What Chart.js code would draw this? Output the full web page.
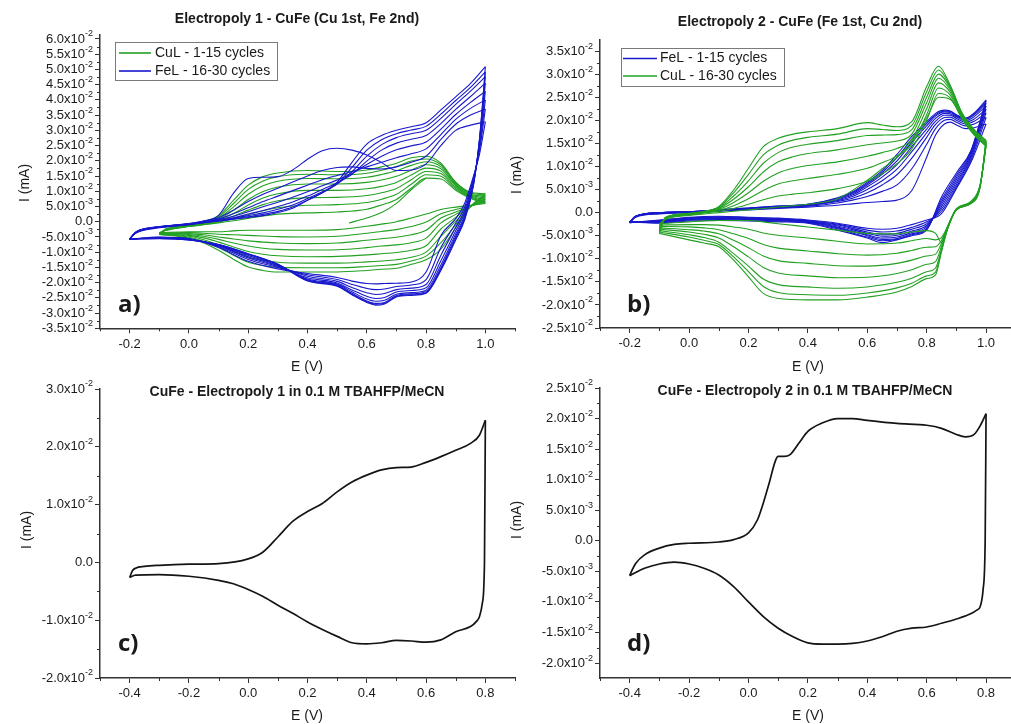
<!DOCTYPE html>
<html><head><meta charset="utf-8">
<script src="https://cdn.jsdelivr.net/npm/chart.js@4.4.1/dist/chart.umd.min.js"></script>
<style>
html,body{margin:0;padding:0;background:#ffffff;}
body{width:1011px;height:724px;overflow:hidden;position:relative;}
canvas{position:absolute;left:0;top:0;}
</style></head><body>
<canvas id="ca" width="1011" height="724"></canvas>
<canvas id="cb" width="1011" height="724"></canvas>
<canvas id="cc" width="1011" height="724"></canvas>
<canvas id="cd" width="1011" height="724"></canvas>
<script>
// ===== DATA (current in units of 1e-3 mA, potential in V) =====
// Panel a — CuL cycles (green), forward and reverse scans
const aCuE_F = [-0.1,-0.08,0,0.05,0.1,0.15,0.2,0.25,0.3,0.4,0.5,0.6,0.65,0.7,0.75,0.8,0.85,0.9,0.95,1.0];
const aCuFwd = [
  [-3.6,-2.9,-1.6,-1.0,-0.4,0.3,1.1,1.9,2.5,2.9,3.2,4.1,5.5,7.3,11.0,14.3,14.0,10.3,7.6,6.0],
  [-3.7,-2.9,-1.5,-0.9,-0.1,1.0,2.3,3.6,4.6,5.4,5.6,6.3,7.4,9.0,12.3,15.4,14.9,10.8,7.9,6.4],
  [-3.8,-2.8,-1.5,-0.8,0.2,1.8,3.8,5.6,6.9,7.9,8.0,8.6,9.5,10.9,13.8,16.5,15.8,11.3,8.2,6.8],
  [-3.9,-2.8,-1.4,-0.7,0.5,2.7,5.5,7.8,9.2,10.3,10.3,10.8,11.6,12.9,15.3,17.6,16.6,11.8,8.5,7.3],
  [-4.0,-2.7,-1.4,-0.5,0.8,3.7,7.3,9.9,11.4,12.4,12.4,12.9,13.7,14.9,16.9,18.7,17.4,12.2,8.8,7.8],
  [-4.0,-2.7,-1.3,-0.4,1.2,4.8,9.0,11.8,13.3,14.2,14.1,14.6,15.5,16.7,18.5,19.7,18.1,12.5,9.1,8.3],
  [-4.1,-2.6,-1.3,-0.2,1.6,5.9,10.6,13.4,14.8,15.6,15.4,15.9,16.9,18.1,19.9,20.6,18.7,12.8,9.4,8.8],
  [-4.2,-2.5,-1.2,0.0,2.0,7.0,12.0,14.8,16.0,16.8,16.5,17.0,18.0,19.2,21.0,21.5,19.2,13.0,9.7,9.2]
];
const aCuE_R = [-0.1,0,0.05,0.1,0.15,0.2,0.25,0.3,0.4,0.5,0.6,0.65,0.7,0.75,0.8,0.85,0.9,0.95,1.0];
const aCuRev = [
  [-3.6,-3.3,-3.3,-3.3,-3.0,-2.8,-2.8,-2.8,-2.8,-2.6,-1.5,-0.8,0.0,1.2,2.5,4.0,4.8,5.4,6.0],
  [-3.7,-3.6,-3.8,-4.1,-4.3,-4.5,-4.7,-4.9,-5.0,-4.8,-3.8,-3.2,-2.6,-1.6,-0.1,2.6,4.0,5.2,6.4],
  [-3.8,-3.9,-4.3,-5.0,-5.7,-6.3,-6.7,-7.0,-7.2,-7.0,-6.1,-5.6,-5.1,-4.3,-2.8,1.2,3.2,5.1,6.8],
  [-3.9,-4.2,-4.8,-5.8,-7.0,-8.0,-8.7,-9.1,-9.3,-9.2,-8.5,-8.0,-7.6,-6.9,-5.4,-0.4,2.4,5.0,7.3],
  [-4.0,-4.5,-5.3,-6.7,-8.3,-9.8,-10.7,-11.2,-11.5,-11.4,-10.9,-10.5,-10.1,-9.4,-7.9,-2.4,1.4,5.0,7.8],
  [-4.0,-4.8,-5.9,-7.6,-9.7,-11.6,-12.7,-13.3,-13.6,-13.6,-13.2,-12.9,-12.5,-11.7,-10.0,-4.8,0.2,5.0,8.3],
  [-4.1,-5.1,-6.4,-8.5,-11.0,-13.3,-14.4,-15.0,-15.1,-15.1,-14.7,-14.4,-14.0,-12.9,-11.3,-6.9,-1.0,5.0,8.8],
  [-4.2,-5.4,-7.0,-9.4,-12.3,-14.9,-16.0,-16.5,-16.5,-16.5,-16.0,-15.6,-15.3,-14.0,-12.5,-9.0,-2.0,5.0,9.2]
];
const aCuStartE = [0.54,0.6,0.65,0.7,0.75,0.8];
const aCuStartI = [-0.4,1.2,3.0,6.0,10.5,14.3];
// Panel a — FeL cycles (blue)
const aFeE_F = [-0.2,-0.18,-0.1,0,0.05,0.1,0.15,0.2,0.25,0.3,0.35,0.4,0.45,0.5,0.55,0.6,0.65,0.7,0.75,0.8,0.85,0.9,0.95,1.0];
const aFeFwd = [
  [-5.8,-3.4,-1.6,-0.6,0.3,2.1,9.3,14.2,14.6,14.8,17.0,20.5,23.3,24.1,23.5,21.9,19.4,16.8,17.0,19.0,25.0,30.0,31.7,32.8],
  [-5.8,-3.5,-1.7,-0.7,0.1,1.3,3.8,6.6,9.0,11.0,13.0,15.0,16.8,17.8,18.0,17.5,17.3,18.0,19.5,21.5,27.0,32.0,35.0,37.0],
  [-5.8,-3.5,-1.7,-0.7,0.0,0.9,2.6,4.6,6.6,8.4,10.2,12.0,13.8,15.2,16.5,18.0,19.5,21.0,22.3,23.9,28.6,33.6,37.2,40.0],
  [-5.7,-3.6,-1.8,-0.8,-0.1,0.7,1.8,3.3,4.9,6.4,8.0,9.8,11.8,13.7,15.8,18.8,21.5,23.6,24.9,26.2,30.4,35.2,39.2,42.8],
  [-5.7,-3.6,-1.8,-0.8,-0.2,0.5,1.3,2.5,3.7,5.0,6.5,8.4,10.6,12.8,15.6,19.9,23.5,25.8,27.1,28.3,32.2,36.9,41.1,45.5],
  [-5.7,-3.7,-1.9,-0.9,-0.2,0.4,1.1,2.0,2.9,4.1,5.5,7.6,9.8,12.4,16.4,21.5,25.3,27.6,28.9,30.0,33.9,38.5,42.9,47.6],
  [-5.6,-3.7,-1.9,-0.9,-0.3,0.3,0.9,1.6,2.4,3.4,4.8,7.1,9.5,12.5,17.8,23.5,26.9,28.9,30.1,31.3,35.3,39.8,44.1,49.2],
  [-5.6,-3.8,-2.0,-1.0,-0.3,0.2,0.8,1.4,2.0,3.0,4.4,7.0,9.5,13.0,19.5,25.5,28.3,30.0,31.2,32.5,36.7,41.0,45.4,50.9]
];
const aFeE_R = [-0.2,-0.1,0,0.1,0.2,0.3,0.4,0.5,0.55,0.6,0.63,0.66,0.7,0.75,0.8,0.85,0.9,0.93,0.96,0.98,1.0];
const aFeRev = [
  [-5.8,-5.0,-5.5,-8.5,-13.0,-15.5,-17.0,-18.3,-19.5,-20.3,-20.4,-20.3,-20.2,-19.8,-16.5,-4.5,1.0,6.0,15.0,22.0,32.8],
  [-5.8,-5.1,-5.6,-8.2,-12.4,-15.0,-17.4,-19.0,-20.6,-21.9,-22.3,-22.1,-21.3,-20.8,-19.0,-8.5,-0.5,4.8,14.5,23.2,37.0],
  [-5.8,-5.2,-5.7,-8.0,-11.9,-14.7,-17.9,-19.6,-21.6,-23.3,-23.9,-23.6,-22.3,-21.8,-20.6,-11.0,-1.8,3.7,13.9,24.2,40.0],
  [-5.7,-5.3,-5.8,-7.8,-11.5,-14.5,-18.4,-20.1,-22.4,-24.5,-25.2,-24.9,-23.1,-22.6,-21.7,-12.8,-3.0,2.8,13.4,25.1,42.8],
  [-5.7,-5.4,-5.8,-7.7,-11.1,-14.3,-18.8,-20.5,-23.0,-25.4,-26.1,-25.8,-23.8,-23.3,-22.5,-14.2,-4.0,2.0,12.9,25.8,45.5],
  [-5.7,-5.5,-5.9,-7.6,-10.8,-14.1,-19.1,-20.8,-23.5,-26.0,-26.8,-26.5,-24.2,-23.7,-23.0,-15.1,-4.8,1.4,12.5,26.4,47.6],
  [-5.6,-5.5,-6.0,-7.5,-10.6,-14.0,-19.3,-21.0,-23.8,-26.3,-27.1,-26.8,-24.5,-24.0,-23.3,-15.6,-5.4,0.9,12.2,26.8,49.2],
  [-5.6,-5.6,-6.0,-7.5,-10.5,-14.0,-19.5,-21.2,-24.0,-26.5,-27.4,-27.0,-24.7,-24.2,-23.5,-16.0,-6.0,0.5,12.0,27.0,50.9]
];
// Panel b — FeL cycles (blue)
const bFeE_F = [-0.2,-0.18,-0.1,0,0.1,0.2,0.3,0.4,0.5,0.55,0.6,0.65,0.7,0.75,0.8,0.83,0.86,0.88,0.9,0.93,0.96,1.0];
const bFeFwd = [
  [-2.2,-1.0,-0.3,0.0,0.3,0.6,0.9,1.2,1.6,1.9,2.2,2.4,2.7,4.8,12.0,16.8,19.2,19.6,19.0,18.2,18.4,19.2],
  [-2.2,-0.9,-0.2,0.1,0.4,0.7,1.0,1.4,2.1,2.7,3.5,4.6,6.0,9.5,14.8,18.2,20.0,20.2,19.6,18.8,19.2,20.6],
  [-2.1,-0.9,-0.1,0.1,0.4,0.8,1.1,1.5,2.4,3.1,4.3,6.0,8.2,11.8,16.3,19.1,20.6,20.7,20.0,19.2,19.8,21.6],
  [-2.1,-0.9,-0.1,0.1,0.5,0.8,1.2,1.6,2.6,3.5,5.0,6.9,9.4,13.2,17.3,19.8,21.1,21.1,20.4,19.6,20.3,22.4],
  [-2.1,-0.8,0.0,0.2,0.5,0.9,1.3,1.7,2.8,3.8,5.6,7.7,10.4,14.3,18.1,20.4,21.5,21.4,20.7,19.9,20.8,23.1],
  [-2.0,-0.8,0.0,0.2,0.5,0.9,1.3,1.7,3.0,4.1,6.0,8.3,11.2,15.2,18.8,20.9,21.8,21.7,20.9,20.2,21.2,23.7],
  [-2.0,-0.8,0.0,0.2,0.6,1.0,1.4,1.8,3.1,4.3,6.3,8.7,11.9,15.9,19.3,21.2,22.0,21.9,21.1,20.4,21.4,24.1],
  [-2.0,-0.8,0.0,0.2,0.6,1.0,1.4,1.8,3.2,4.5,6.6,9.1,12.6,16.5,19.7,21.5,22.2,22.0,21.2,20.5,21.6,24.4]
];
const bFeE_R = [-0.2,-0.1,0,0.1,0.2,0.3,0.4,0.5,0.6,0.65,0.7,0.75,0.8,0.85,0.9,0.95,1.0];
const bFeRev = [
  [-2.2,-1.6,-1.0,-0.8,-1.0,-1.2,-1.6,-2.3,-3.4,-3.6,-3.4,-2.6,-1.6,-0.2,5.2,11.0,19.2],
  [-2.2,-1.7,-1.1,-0.9,-1.1,-1.3,-1.7,-2.5,-3.8,-4.2,-4.0,-3.2,-2.0,0.3,5.6,11.5,20.6],
  [-2.1,-1.8,-1.2,-1.0,-1.2,-1.4,-1.8,-2.7,-4.2,-4.7,-4.5,-3.6,-2.4,0.8,6.1,12.0,21.6],
  [-2.1,-1.9,-1.3,-1.1,-1.3,-1.5,-1.9,-2.9,-4.5,-5.1,-4.9,-4.0,-2.8,1.3,6.6,12.4,22.4],
  [-2.1,-2.0,-1.4,-1.2,-1.4,-1.6,-2.0,-3.1,-4.8,-5.5,-5.3,-4.3,-3.1,1.8,7.1,12.8,23.1],
  [-2.0,-2.1,-1.5,-1.3,-1.5,-1.7,-2.1,-3.3,-5.0,-5.8,-5.6,-4.6,-3.4,2.3,7.6,13.1,23.7],
  [-2.0,-2.2,-1.6,-1.5,-1.6,-1.8,-2.2,-3.5,-5.3,-6.1,-5.8,-4.8,-3.6,2.8,8.1,13.4,24.1],
  [-2.0,-2.3,-1.8,-1.7,-1.8,-2.0,-2.3,-3.8,-5.5,-6.5,-5.9,-5.0,-3.8,3.4,8.6,13.6,24.4]
];
// Panel b — CuL cycles (green)
const bCuE_F = [-0.1,-0.08,0,0.05,0.1,0.15,0.2,0.25,0.3,0.35,0.4,0.5,0.6,0.65,0.7,0.75,0.8,0.84,0.88,0.92,0.96,1.0];
const bCuFwd = [
  [-2.4,-1.5,-0.6,-0.3,0.0,0.3,0.6,0.9,1.2,1.5,1.8,3.0,7.0,9.5,12.0,15.5,20.5,25.0,24.5,20.5,17.0,14.3],
  [-2.7,-1.4,-0.5,-0.1,0.3,0.9,1.8,2.8,3.6,4.0,4.3,5.2,6.8,8.4,10.6,13.8,20.0,25.8,24.8,20.2,16.8,14.5],
  [-3.0,-1.3,-0.4,0.0,0.5,1.5,3.0,4.8,6.2,6.9,7.4,8.3,9.6,10.8,12.3,14.8,21.2,27.0,25.4,20.5,17.0,14.7],
  [-3.3,-1.3,-0.3,0.1,0.7,2.2,4.3,6.8,8.6,9.6,10.2,11.0,12.2,13.0,13.9,15.9,22.5,28.1,26.0,20.8,17.2,14.9],
  [-3.6,-1.2,-0.3,0.1,0.9,2.9,5.6,8.8,11.0,12.1,12.8,13.6,14.7,15.1,15.5,17.0,23.8,29.1,26.5,21.0,17.4,15.1],
  [-3.9,-1.1,-0.2,0.2,1.0,3.6,6.9,10.7,13.0,14.2,14.8,15.6,16.7,16.8,16.9,18.0,25.0,30.0,26.9,21.2,17.6,15.3],
  [-4.2,-1.1,-0.2,0.2,1.2,4.3,8.3,12.5,14.6,15.7,16.3,17.0,18.2,18.0,17.8,18.9,26.2,30.9,27.2,21.4,17.8,15.5],
  [-4.5,-1.0,-0.15,0.3,1.3,4.9,9.6,14.3,16.1,17.0,17.5,18.2,19.5,19.0,18.6,19.7,27.3,31.7,27.5,21.5,18.0,15.7]
];
const bCuE_R = [-0.1,0,0.05,0.1,0.15,0.2,0.25,0.3,0.4,0.5,0.6,0.7,0.75,0.8,0.83,0.85,0.87,0.9,0.95,0.98,1.0];
const bCuRev = [
  [-2.4,-2.0,-1.8,-1.7,-1.7,-1.7,-2.0,-2.4,-3.1,-3.8,-4.5,-4.6,-4.2,-3.9,-4.5,-6.5,-3.0,0.8,2.5,6.0,14.3],
  [-2.7,-2.6,-2.6,-2.7,-3.1,-3.6,-4.4,-4.9,-5.5,-6.2,-6.8,-6.6,-6.1,-5.6,-5.9,-5.4,-3.1,0.8,2.4,5.9,14.5],
  [-3.0,-3.1,-3.3,-3.7,-4.6,-5.6,-6.9,-7.7,-8.3,-8.9,-9.2,-8.8,-8.2,-7.5,-7.4,-6.0,-3.2,0.7,2.3,5.9,14.7],
  [-3.3,-3.7,-4.0,-4.6,-6.0,-7.6,-9.4,-10.4,-11.0,-11.5,-11.6,-11.0,-10.3,-9.4,-9.0,-6.6,-3.3,0.7,2.2,5.8,14.9],
  [-3.6,-4.2,-4.7,-5.5,-7.4,-9.6,-11.9,-13.1,-13.7,-14.1,-14.0,-13.2,-12.4,-11.2,-10.6,-7.3,-3.4,0.7,2.2,5.8,15.1],
  [-3.9,-4.8,-5.4,-6.4,-8.9,-11.6,-14.4,-15.6,-16.1,-16.4,-16.1,-15.1,-14.2,-12.8,-12.0,-7.9,-3.5,0.6,2.1,5.7,15.3],
  [-4.2,-5.3,-6.0,-6.9,-9.6,-12.8,-16.0,-17.3,-17.8,-17.9,-17.4,-16.3,-15.3,-13.7,-12.9,-8.2,-3.6,0.6,2.0,5.6,15.5],
  [-4.5,-5.9,-6.6,-7.4,-10.3,-13.9,-17.5,-18.6,-18.9,-18.9,-18.3,-17.2,-16.0,-14.3,-13.5,-8.5,-3.7,0.6,2.0,5.5,15.7]
];
// Panel c — Electropoly 1 film in blank electrolyte
const cE_F = [-0.4,-0.39,-0.38,-0.35,-0.3,-0.2,-0.1,0,0.05,0.1,0.15,0.2,0.25,0.3,0.35,0.4,0.45,0.5,0.55,0.6,0.65,0.7,0.75,0.78,0.8];
const cI_F = [-2.6,-1.4,-1.0,-0.7,-0.5,-0.3,-0.2,0.6,1.8,4.4,7.1,8.8,10.2,12.2,13.9,15.1,16.0,16.4,16.5,17.3,18.3,19.4,20.6,22.0,24.6];
const cE_R = [-0.4,-0.38,-0.3,-0.2,-0.1,-0.05,0,0.05,0.1,0.15,0.2,0.25,0.3,0.35,0.4,0.45,0.5,0.55,0.6,0.65,0.7,0.75,0.77,0.78,0.79,0.797,0.8];
const cI_R = [-2.6,-2.2,-2.1,-2.4,-3.1,-3.7,-4.7,-5.9,-7.4,-8.8,-10.3,-11.6,-12.8,-13.9,-14.1,-13.9,-13.5,-13.6,-13.8,-13.4,-12.0,-11.1,-10.2,-9.4,-7.0,0.0,24.6];
// Panel d — Electropoly 2 film in blank electrolyte
const dE_F = [-0.4,-0.39,-0.38,-0.35,-0.3,-0.25,-0.2,-0.1,-0.05,0,0.03,0.05,0.07,0.09,0.1,0.12,0.14,0.17,0.2,0.25,0.3,0.35,0.4,0.5,0.6,0.65,0.7,0.73,0.76,0.78,0.8];
const dI_F = [-5.7,-4.6,-3.7,-2.3,-1.2,-0.6,-0.4,-0.2,0.2,1.3,3.4,6.2,9.5,13.0,13.8,13.8,14.1,16.0,17.9,19.3,20.0,20.0,19.7,19.2,18.9,18.4,17.4,17.0,17.4,18.8,20.8];
const dE_R = [-0.4,-0.35,-0.3,-0.25,-0.2,-0.15,-0.1,-0.05,0,0.05,0.1,0.15,0.2,0.25,0.3,0.35,0.4,0.45,0.5,0.55,0.6,0.65,0.7,0.75,0.77,0.78,0.79,0.797,0.8];
const dI_R = [-5.7,-4.5,-3.8,-3.5,-3.8,-4.5,-5.6,-7.5,-10.0,-12.4,-14.3,-15.7,-16.7,-16.9,-16.9,-16.8,-16.4,-15.7,-14.8,-14.3,-14.1,-13.5,-12.8,-11.9,-11.3,-10.8,-8.0,0.0,20.8];
// Tick values
const abXTicks = [-0.2,0,0.2,0.4,0.6,0.8,1.0];
const aXMinor = [-0.3,-0.1,0.1,0.3,0.5,0.7,0.9,1.1];
const bXMinor = [-0.3,-0.1,0.1,0.3,0.5,0.7,0.9];
const cdXTicks = [-0.4,-0.2,0,0.2,0.4,0.6,0.8];
const cXMinor = [-0.5,-0.3,-0.1,0.1,0.3,0.5,0.7,0.9];
const dXMinor = [-0.5,-0.3,-0.1,0.1,0.3,0.5,0.7];
const aYTicks = [-35,-30,-25,-20,-15,-10,-5,0,5,10,15,20,25,30,35,40,45,50,55,60];
const bYTicks = [-25,-20,-15,-10,-5,0,5,10,15,20,25,30,35];
const cYTicks = [-20,-10,0,10,20,30];
const dYTicks = [-20,-15,-10,-5,0,5,10,15,20,25];

// ===== STYLE / RENDERING =====
const FONT = '"Liberation Sans", Arial, Helvetica, sans-serif';
const GREEN = '#22a022', BLUE = '#1818cc', BLACK = '#141414', AXIS = '#333333', TXT = '#1a1a1a';
const XAXIS_H = 40;

function midpoints(t) { const m = []; for (let i = 0; i < t.length - 1; i++) m.push((t[i] + t[i + 1]) / 2); return m; }

function sciLabel(ctx, v, right, y) {
  ctx.textBaseline = 'middle';
  if (v === 0) { ctx.font = '13px ' + FONT; ctx.textAlign = 'right'; ctx.fillText('0.0', right, y); return; }
  const big = Math.abs(v) >= 10;
  const main = (big ? v / 10 : v).toFixed(1) + 'x10';
  const sup = big ? '-2' : '-3';
  ctx.font = '9px ' + FONT; const ws = ctx.measureText(sup).width;
  ctx.font = '13px ' + FONT; const wm = ctx.measureText(main).width;
  ctx.textAlign = 'left';
  ctx.fillText(main, right - ws - wm, y);
  ctx.font = '9px ' + FONT;
  ctx.fillText(sup, right - ws, y - 5);
}

function makeDecor(d) {
  return {
    id: 'decor' + d.key,
    afterDraw(chart) {
      const ctx = chart.ctx, xs = chart.scales.x, ys = chart.scales.y, a = chart.chartArea;
      ctx.save();
      ctx.strokeStyle = AXIS; ctx.lineWidth = 1;
      ctx.beginPath();
      d.xMinor.forEach(v => { const p = Math.round(xs.getPixelForValue(v)) + 0.5; ctx.moveTo(p, a.bottom); ctx.lineTo(p, a.bottom + 3); });
      midpoints(d.yTicks).forEach(v => { const p = Math.round(ys.getPixelForValue(v)) + 0.5; ctx.moveTo(a.left - 3, p); ctx.lineTo(a.left, p); });
      ctx.stroke();
      ctx.fillStyle = TXT;
      d.yTicks.forEach(v => sciLabel(ctx, v, a.left - 7, ys.getPixelForValue(v)));
      ctx.textAlign = 'center'; ctx.textBaseline = 'middle';
      ctx.font = 'bold 14px ' + FONT;
      ctx.fillText(d.title, d.titleX, d.titleY);
      ctx.font = '14px ' + FONT;
      ctx.fillText('E (V)', d.xLabX, d.xLabY);
      ctx.save(); ctx.translate(d.yLabX, d.yLabY); ctx.rotate(-Math.PI / 2); ctx.fillText('I (mA)', 0, 0); ctx.restore();
      ctx.font = 'bold 24px "Open Sans", ' + FONT; ctx.textAlign = 'left'; ctx.textBaseline = 'alphabetic';
      ctx.fillText(d.letter, d.letX, d.letY);
      if (d.legend) {
        const L = d.legend;
        ctx.fillStyle = '#ffffff'; ctx.fillRect(L.x, L.y, L.w, L.h);
        ctx.strokeStyle = '#7a7a7a'; ctx.lineWidth = 1; ctx.strokeRect(L.x + 0.5, L.y + 0.5, L.w, L.h);
        L.rows.forEach(r => {
          ctx.strokeStyle = r.color; ctx.lineWidth = 1.6;
          ctx.beginPath(); ctx.moveTo(L.lx1, r.y); ctx.lineTo(L.lx2, r.y); ctx.stroke();
          ctx.fillStyle = TXT; ctx.font = '14px ' + FONT; ctx.textBaseline = 'middle';
          ctx.fillText(r.label, L.tx, r.y);
        });
      }
      ctx.restore();
    }
  };
}

function lineSet(es, is, color, order, width) {
  return { data: es.map((e, j) => ({ x: e, y: is[j] })), borderColor: color, borderWidth: width || 1.1,
    pointRadius: 0, fill: false, cubicInterpolationMode: 'monotone', order: order };
}
function cycleSets(eF, fwd, eR, rev, color, order) {
  const s = [];
  fwd.forEach((row, i) => { s.push(lineSet(eF, row, color, order)); s.push(lineSet(eR, rev[i], color, order)); });
  return s;
}

function makeChart(id, c) {
  return new Chart(document.getElementById(id), {
    type: 'line',
    data: { datasets: c.datasets },
    options: {
      responsive: false, animation: false, devicePixelRatio: 1, events: [],
      layout: { padding: c.padding },
      plugins: { legend: { display: false }, tooltip: { enabled: false } },
      scales: {
        x: { type: 'linear', min: c.xMin, max: c.xMax,
          afterFit: s => { s.height = XAXIS_H; },
          afterBuildTicks: s => { s.ticks = c.xTicks.map(v => ({ value: v })); },
          ticks: { callback: v => Number(v).toFixed(1), font: { family: FONT, size: 13 }, color: TXT, padding: 3, maxRotation: 0, autoSkip: false },
          grid: { drawOnChartArea: false, drawTicks: true, tickLength: 5, color: AXIS, lineWidth: 1 },
          border: { display: true, color: AXIS, width: 1.5 } },
        y: { type: 'linear', min: c.yMin, max: c.yMax,
          afterFit: s => { s.width = 0; },
          afterBuildTicks: s => { s.ticks = c.yTicks.map(v => ({ value: v })); },
          ticks: { display: false },
          grid: { drawOnChartArea: false, drawTicks: true, tickLength: 5, color: AXIS, lineWidth: 1 },
          border: { display: true, color: AXIS, width: 1.5 } }
      }
    },
    plugins: [makeDecor(c.decor)]
  });
}

// Panel a
makeChart('ca', {
  datasets: [].concat(
    cycleSets(aFeE_F, aFeFwd, aFeE_R, aFeRev, BLUE, 0),
    cycleSets(aCuE_F, aCuFwd, aCuE_R, aCuRev, GREEN, 1),
    [lineSet(aCuStartE, aCuStartI, GREEN, 1)]
  ),
  padding: { left: 100, top: 35, right: 496, bottom: 395.7 - XAXIS_H },
  xMin: -0.3, xMax: 1.1, yMin: -35, yMax: 61.3, xTicks: abXTicks, yTicks: aYTicks,
  decor: { key: 'a', xMinor: aXMinor, yTicks: aYTicks, title: 'Electropoly 1 - CuFe (Cu 1st, Fe 2nd)', titleX: 297, titleY: 19,
    xLabX: 307, xLabY: 367, yLabX: 25, yLabY: 183, letter: 'a)', letX: 118, letY: 312,
    legend: { x: 115, y: 42, w: 162, h: 38, lx1: 119, lx2: 151, tx: 155,
      rows: [{ label: 'CuL - 1-15 cycles', color: GREEN, y: 53 }, { label: 'FeL - 16-30 cycles', color: BLUE, y: 71 }] } }
});
// Panel b
makeChart('cb', {
  datasets: [].concat(
    cycleSets(bCuE_F, bCuFwd, bCuE_R, bCuRev, GREEN, 0),
    cycleSets(bFeE_F, bFeFwd, bFeE_R, bFeRev, BLUE, 1)
  ),
  padding: { left: 600, top: 40, right: 0, bottom: 396 - XAXIS_H },
  xMin: -0.3, xMax: 1.084, yMin: -25, yMax: 37.4, xTicks: abXTicks, yTicks: bYTicks,
  decor: { key: 'b', xMinor: bXMinor, yTicks: bYTicks, title: 'Electropoly 2 - CuFe (Fe 1st, Cu 2nd)', titleX: 800, titleY: 22,
    xLabX: 808, xLabY: 367, yLabX: 517, yLabY: 175, letter: 'b)', letX: 627, letY: 312,
    legend: { x: 621, y: 48, w: 163, h: 38, lx1: 623, lx2: 657, tx: 660,
      rows: [{ label: 'FeL - 1-15 cycles', color: BLUE, y: 58.5 }, { label: 'CuL - 16-30 cycles', color: GREEN, y: 76 }] } }
});
// Panel c
makeChart('cc', {
  datasets: [lineSet(cE_F, cI_F, BLACK, 0, 1.7), lineSet(cE_R, cI_R, BLACK, 0, 1.7)],
  padding: { left: 100, top: 389, right: 496, bottom: 46 - XAXIS_H },
  xMin: -0.5, xMax: 0.9, yMin: -20, yMax: 30, xTicks: cdXTicks, yTicks: cYTicks,
  decor: { key: 'c', xMinor: cXMinor, yTicks: cYTicks, title: 'CuFe - Electropoly 1 in 0.1 M TBAHFP/MeCN', titleX: 297, titleY: 392,
    xLabX: 307, xLabY: 716, yLabX: 27, yLabY: 530, letter: 'c)', letX: 118, letY: 651 }
});
// Panel d
makeChart('cd', {
  datasets: [lineSet(dE_F, dI_F, BLACK, 0, 1.7), lineSet(dE_R, dI_R, BLACK, 0, 1.7)],
  padding: { left: 600, top: 388, right: 0, bottom: 46 - XAXIS_H },
  xMin: -0.5, xMax: 0.884, yMin: -22.45, yMax: 25, xTicks: cdXTicks, yTicks: dYTicks,
  decor: { key: 'd', xMinor: dXMinor, yTicks: dYTicks, title: 'CuFe - Electropoly 2 in 0.1 M TBAHFP/MeCN', titleX: 805, titleY: 391,
    xLabX: 808, xLabY: 716, yLabX: 517, yLabY: 520, letter: 'd)', letX: 627, letY: 651 }
});
</script>
</body></html>
